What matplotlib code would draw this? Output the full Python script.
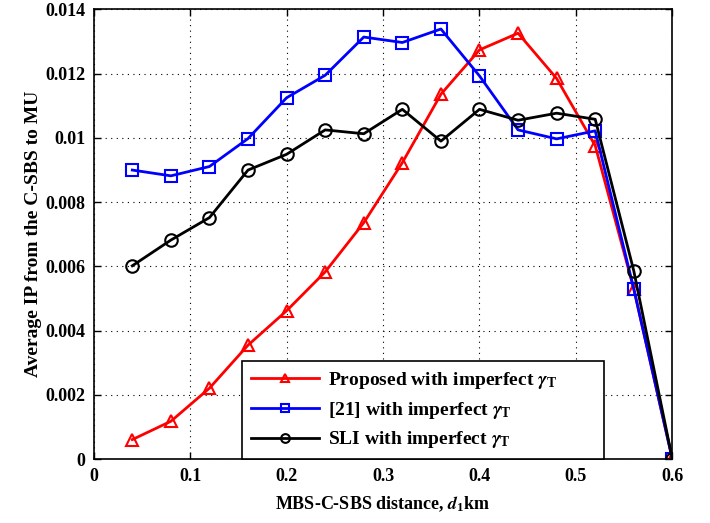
import matplotlib
matplotlib.use("Agg")
import matplotlib.pyplot as plt

x = [0.04, 0.08, 0.12, 0.16, 0.20, 0.24, 0.28, 0.32, 0.36, 0.40, 0.44, 0.48, 0.52, 0.56, 0.60]
proposed = [0.00061, 0.00118, 0.00221, 0.00355, 0.00462, 0.00583, 0.00736, 0.00923, 0.01136,
            0.01274, 0.01326, 0.01185, 0.00976, 0.0053, 0.0]
ref21 = [0.00900, 0.00882, 0.00911, 0.00998, 0.01125, 0.01195, 0.01314, 0.01297, 0.01339,
         0.01193, 0.01025, 0.00997, 0.01022, 0.0053, 0.0]
sli = [0.00602, 0.00682, 0.00752, 0.00900, 0.00949, 0.01025, 0.01013, 0.01089, 0.00990,
       0.01089, 0.01055, 0.01077, 0.01058, 0.00586, 0.0]
labels = [r'Proposed with imperfect $\gamma_{\mathrm{T}}$',
          r'[21] with imperfect $\gamma_{\mathrm{T}}$',
          r'SLI with imperfect $\gamma_{\mathrm{T}}$']
xticks = [0, 0.1, 0.2, 0.3, 0.4, 0.5, 0.6]
xticklabels = ['0', '0.1', '0.2', '0.3', '0.4', '0.5', '0.6']
yticks = [0, 0.002, 0.004, 0.006, 0.008, 0.01, 0.012, 0.014]
yticklabels = ['0', '0.002', '0.004', '0.006', '0.008', '0.01', '0.012', '0.014']

plt.rcParams['font.family'] = ['Liberation Serif', 'DejaVu Serif']
plt.rcParams['font.weight'] = 'bold'
plt.rcParams['mathtext.fontset'] = 'custom'
plt.rcParams['mathtext.rm'] = 'Liberation Serif'
plt.rcParams['mathtext.it'] = 'STIXGeneral:italic:bold'
plt.rcParams['mathtext.bf'] = 'Liberation Serif:bold'

fig = plt.figure(figsize=(7.1, 5.23), dpi=100)
ax = fig.add_axes([0.132, 0.122, 0.815, 0.86])

ax.plot(x, proposed, color='red', lw=2, marker='^', ms=9, mfc='none', mew=1.5, label=labels[0])
ax.plot(x, ref21, color='blue', lw=2, marker='s', ms=9, mfc='none', mew=1.5, label=labels[1])
ax.plot(x, sli, color='black', lw=2, marker='o', ms=9, mfc='none', mew=1.5, label=labels[2])

ax.set_xlim(0, 0.6)
ax.set_ylim(0, 0.014)
ax.set_xticks(xticks)
ax.set_xticklabels(xticklabels)
ax.set_yticks(yticks)
ax.set_yticklabels(yticklabels)
ax.tick_params(direction='in', labelsize=13, width=1, length=5, top=True, right=True, pad=6)
for lab in ax.get_xticklabels() + ax.get_yticklabels():
    lab.set_fontweight('bold')
ax.grid(True, linestyle=(0, (1, 4)), color='black', lw=0.8)
for s in ax.spines.values():
    s.set_linewidth(1.2)

ax.set_xlabel(r'MBS-C-SBS distance, $d_1$km', fontsize=13, fontweight='bold', labelpad=7)
ax.set_ylabel('Average IP from the C-SBS to MU', fontsize=14, fontweight='bold', labelpad=2)

leg = ax.legend(loc='lower left', bbox_to_anchor=(0.257, 0.0, 0.625, 0.2), mode='expand',
                borderaxespad=0, fancybox=False, edgecolor='black', framealpha=1,
                handlelength=3.5, handletextpad=0.45, labelspacing=0.45, borderpad=0.45,
                markerscale=0.7, prop={'weight': 'bold', 'size': 14})
leg.get_frame().set_linewidth(1.2)

fig.savefig('out.png', dpi=100)
